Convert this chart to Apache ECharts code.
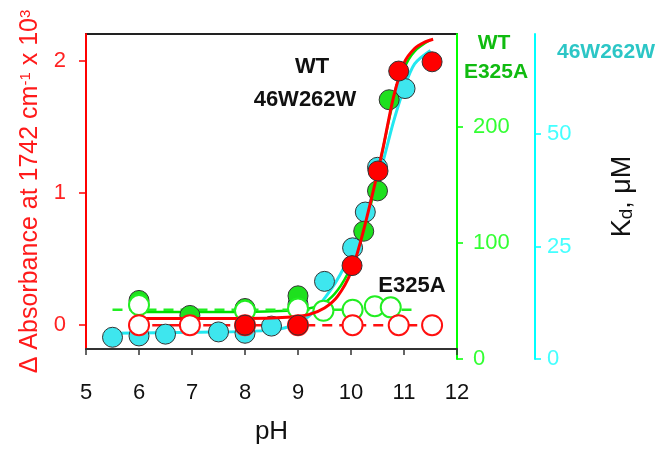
<!DOCTYPE html>
<html>
<head>
<meta charset="utf-8">
<script src="https://cdn.jsdelivr.net/npm/echarts@6/dist/echarts.min.js"></script>
<style>
html, body { margin: 0; padding: 0; background: #fff; }
#chart { width: 662px; height: 450px; }
</style>
</head>
<body>
<div id="chart"></div>
<script>
// WT, delta absorbance (left red axis)
var redWtPh = [8, 9, 10.02, 10.51, 10.9, 11.53];
var redWtVal = [0.0, 0.0, 0.45, 1.165, 1.92, 1.99];
// E325A, delta absorbance (open red)
var redMutPh = [6, 6.96, 8, 9, 10.03, 10.9, 11.53];
var redMutVal = [0.0, 0.0, 0.0, 0.0, 0.0, 0.0, 0.0];
var redFitPh = [6.1, 7, 8, 8.8, 9.2, 9.5, 9.75, 10.0, 10.2, 10.4, 10.6, 10.8, 11.0, 11.2, 11.4, 11.55];
var redFitVal = [0.05, 0.05, 0.05, 0.06, 0.08, 0.13, 0.22, 0.4, 0.66, 0.98, 1.33, 1.72, 1.98, 2.09, 2.14, 2.16];
var redDashPh = [6.25, 11.5];
var redDashVal = [0.0, 0.0];

// WT Kd (green axis)
var greenWtPh = [6, 6.96, 8, 9, 10.24, 10.5, 10.72];
var greenWtVal = [49, 36, 42, 53, 109, 144, 223];
// E325A Kd (open green)
var greenMutPh = [6, 8, 9, 9.48, 10.03, 10.45, 10.75];
var greenMutVal = [45, 40, 42, 40, 41, 44, 43];
var greenFitPh = [5.9, 7, 8, 8.8, 9.2, 9.5, 9.75, 10.0, 10.2, 10.4, 10.6, 10.8, 11.0, 11.2, 11.5];
var greenFitVal = [39, 39, 39, 40, 42, 47, 58, 78, 102, 137, 180, 222, 250, 265, 275];
var greenDashPh = [5.5, 11.2];
var greenDashVal = [41, 41];

// 46W262W Kd (cyan axis)
var cyanPh = [5.5, 6, 6.5, 7.5, 8, 8.5, 9, 9.5, 10.03, 10.27, 10.5, 11.02];
var cyanVal = [4.4, 4.7, 5.1, 5.6, 5.3, 6.9, 11.8, 16.9, 24.4, 32.4, 42.4, 60];
var cyanFitPh = [5.5, 7, 8.5, 9.0, 9.3, 9.6, 9.8, 10.0, 10.2, 10.4, 10.6, 10.8, 11.0, 11.2, 11.5];
var cyanFitVal = [5.3, 5.5, 6.0, 7.5, 10.2, 14.7, 18.5, 23.3, 29.5, 36, 43.5, 52.5, 60, 65.5, 68.5];

var xTicks = [5, 6, 7, 8, 9, 10, 11, 12];
var redTicks = [0, 1, 2];
var greenTicks = [0, 100, 200];
var cyanTicks = [0, 25, 50];

function pairs(xs, ys) {
	var out = [];
	for (var i = 0; i < xs.length; i++) {
		out.push([xs[i], ys[i]]);
	}
	return out;
}

var FONT = 'Liberation Sans, Arial, sans-serif';
var myChart = echarts.init(document.getElementById('chart'));

function dots(name, xs, ys, yIdx, fill, border, bw, z) {
	return {
		name: name, type: 'scatter', xAxisIndex: 0, yAxisIndex: yIdx,
		symbol: 'circle', symbolSize: 20, z: z,
		itemStyle: { color: fill, borderColor: border, borderWidth: bw, opacity: 1 },
		data: pairs(xs, ys)
	};
}
function curve(name, xs, ys, yIdx, color, w, dashed, z) {
	return {
		name: name, type: 'line', xAxisIndex: 0, yAxisIndex: yIdx,
		showSymbol: false, symbol: 'none', smooth: dashed ? false : 0.3, z: z,
		lineStyle: { color: color, width: w, type: dashed ? [10, 7] : 'solid' },
		data: pairs(xs, ys)
	};
}

var option = {
	backgroundColor: '#fff',
	animation: false,
	grid: [
		{ left: 86, right: 205, top: 34, bottom: 99, show: true, borderColor: '#222', borderWidth: 2, backgroundColor: 'transparent' },
		{ left: 86, right: 205, top: 34, bottom: 91 }
	],
	xAxis: [
		{
			gridIndex: 0, type: 'value', min: 5, max: 12, interval: 1,
			name: 'pH', nameLocation: 'middle', nameGap: 70,
			nameTextStyle: { fontSize: 26, color: '#111', fontFamily: FONT },
			axisLine: { show: true, onZero: false, lineStyle: { color: '#333', width: 2 } },
			axisTick: { show: true, inside: false, length: 6, lineStyle: { color: '#333', width: 1.5 } },
			axisLabel: { fontSize: 22, color: '#111', margin: 33, fontFamily: FONT,
				customValues: xTicks },
			splitLine: { show: false }
		},
		{ gridIndex: 1, type: 'value', min: 5, max: 12, show: false }
	],
	yAxis: [
		{
			gridIndex: 0, type: 'value', position: 'left', min: -0.18, max: 2.2,
			name: '{n|Δ Absorbance at 1742 cm}{s|-1}{n| x 10}{s|3}',
			nameLocation: 'middle', nameRotate: 90, nameGap: 42,
			nameTextStyle: {
				color: '#ff1a1a', fontFamily: FONT,
				rich: {
					n: { fontSize: 25, color: '#ff1a1a', fontFamily: FONT },
					s: { fontSize: 15, color: '#ff1a1a', fontFamily: FONT, verticalAlign: 'top' }
				}
			},
			axisLine: { show: true, onZero: false, lineStyle: { color: '#ff0000', width: 2 } },
			axisTick: { show: true, inside: false, length: 7, customValues: redTicks, lineStyle: { color: '#ff0000', width: 1.5 } },
			axisLabel: { fontSize: 22, color: '#ff2222', margin: 20, fontFamily: FONT, customValues: redTicks },
			splitLine: { show: false }
		},
		// hidden data axes for the Kd series, mapped onto the main grid
		{ gridIndex: 0, type: 'value', min: 6.9, max: 280, show: false, splitLine: { show: false } },
		{ gridIndex: 0, type: 'value', min: 1.78, max: 72.2, show: false, splitLine: { show: false } },
		// visible Kd axes (they run a little below the frame)
		{
			gridIndex: 1, type: 'value', position: 'right', offset: 0, min: 0, max: 280,
			axisLine: { show: true, onZero: false, lineStyle: { color: '#00ff00', width: 2 } },
			axisTick: { show: true, inside: false, length: 6, customValues: greenTicks, lineStyle: { color: '#00ff00', width: 1.5 } },
			axisLabel: { fontSize: 22, color: '#33ff33', margin: 16, fontFamily: FONT, customValues: greenTicks },
			splitLine: { show: false }
		},
		{
			gridIndex: 1, type: 'value', position: 'right', offset: 78, min: 0, max: 72.2,
			name: '{k|K}{d|d}{k|, μM}',
			nameLocation: 'middle', nameRotate: 90, nameGap: 74,
			nameTextStyle: {
				color: '#111', fontFamily: FONT,
				rich: {
					k: { fontSize: 27, color: '#111', fontFamily: FONT },
					d: { fontSize: 19, color: '#111', fontFamily: FONT, verticalAlign: 'bottom' }
				}
			},
			axisLine: { show: true, onZero: false, lineStyle: { color: '#00ffff', width: 2 } },
			axisTick: { show: true, inside: false, length: 6, customValues: cyanTicks, lineStyle: { color: '#00ffff', width: 1.5 } },
			axisLabel: { fontSize: 22, color: '#44ffff', margin: 12, fontFamily: FONT, customValues: cyanTicks },
			splitLine: { show: false }
		}
	],
	series: [
		curve('46W262W fit', cyanFitPh, cyanFitVal, 2, '#22e8f0', 3, false, 2),
		curve('WT Kd fit', greenFitPh, greenFitVal, 1, '#00e000', 2.5, false, 2),
		curve('E325A Kd', greenDashPh, greenDashVal, 1, '#22ee22', 2.5, true, 2),
		curve('E325A abs', redDashPh, redDashVal, 0, '#ff1010', 2.5, true, 2),
		dots('46W262W', cyanPh, cyanVal, 2, '#3ee6ee', '#333', 1, 3),
		dots('WT Kd', greenWtPh, greenWtVal, 1, '#1ee01e', '#333', 1, 3),
		dots('E325A Kd pts', greenMutPh, greenMutVal, 1, '#ffffff', '#22ee22', 2, 3),
		curve('WT abs fit', redFitPh, redFitVal, 0, '#ff0000', 3, false, 4),
		dots('E325A abs pts', redMutPh, redMutVal, 0, '#ffffff', '#ff1010', 2, 5),
		dots('WT abs', redWtPh, redWtVal, 0, '#ff0000', '#333', 1, 5)
	],
	graphic: [
		{ type: 'text', x: 312, y: 67, z: 10, style: { text: 'WT', fontSize: 22, fontWeight: 'bold', fontFamily: FONT, fill: '#111', align: 'center', verticalAlign: 'middle' } },
		{ type: 'text', x: 305, y: 100, z: 10, style: { text: '46W262W', fontSize: 22, fontWeight: 'bold', fontFamily: FONT, fill: '#111', align: 'center', verticalAlign: 'middle' } },
		{ type: 'text', x: 412, y: 286, z: 10, style: { text: 'E325A', fontSize: 22, fontWeight: 'bold', fontFamily: FONT, fill: '#111', align: 'center', verticalAlign: 'middle' } },
		{ type: 'text', x: 494, y: 43, z: 10, style: { text: 'WT', fontSize: 21, fontWeight: 'bold', fontFamily: FONT, fill: '#10bb10', align: 'center', verticalAlign: 'middle' } },
		{ type: 'text', x: 496, y: 72, z: 10, style: { text: 'E325A', fontSize: 21, fontWeight: 'bold', fontFamily: FONT, fill: '#10bb10', align: 'center', verticalAlign: 'middle' } },
		{ type: 'text', x: 606, y: 52, z: 10, style: { text: '46W262W', fontSize: 21, fontWeight: 'bold', fontFamily: FONT, fill: '#2cc6c6', align: 'center', verticalAlign: 'middle' } }
	]
};

myChart.setOption(option);
</script>
</body>
</html>
